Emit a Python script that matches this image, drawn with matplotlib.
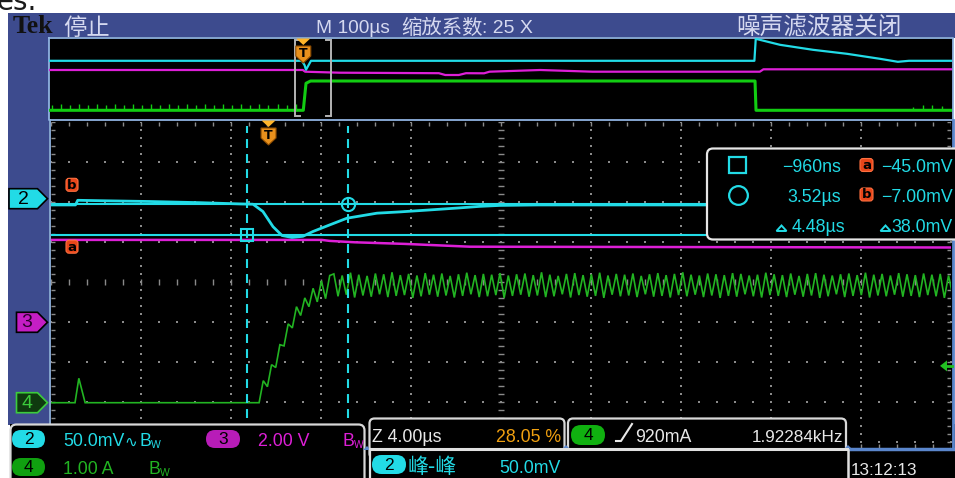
import matplotlib
matplotlib.use("Agg")
import matplotlib.pyplot as plt
import numpy as np
from matplotlib.patches import Rectangle, FancyBboxPatch, Polygon
from matplotlib.collections import LineCollection

# ======================= DATA =======================
# ---- zoomed window, 4.00 us/div ----
ch2_t  = [-9.69, -8.60, -8.50, -7.50, -5.30, -3.00, -1.30, -0.69, -0.25, 0.20, 0.60,
          1.04, 1.53, 1.98, 2.73, 3.49, 4.83, 5.85, 7.20, 8.50, 9.40, 10.30, 12.0, 30.40]
ch2_mv = [-7.8, -7.8, -2.0, -2.5, -3.5, -5.0, -6.5, -6.9, -16.0, -35.0, -46.0,
          -48.4, -47.0, -41.0, -32.7, -24.4, -18.1, -16.5, -14.0, -11.5, -9.6, -8.4, -7.8, -7.8]

ch3_t = [-9.69, 2.37, 2.73, 3.85, 6.08, 8.97, 30.40]
ch3_v = [4.12, 4.12, 4.07, 4.00, 3.92, 3.78, 3.74]

ch4_base_t = [-9.69, -8.62, -8.45, -8.17, -0.42]
ch4_base_a = [0.0, 0.0, 0.61, 0.0, 0.0]
ch4_rip_t0 = -0.42          # first vertex of the ramp / ripple
ch4_rip_dt = 0.185          # half period of the switching ripple (us)
ch4_ramp_a = [0.55, 0.40, 0.95, 0.88, 1.45, 1.42, 1.97, 1.87, 2.40, 2.18,
              2.62, 2.40, 2.86, 2.52, 3.05, 2.60, 3.18]
ch4_peaks = [3.22, 3.18, 3.25, 3.20, 3.17, 3.23, 3.21, 3.26, 3.19, 3.22,
             3.18, 3.24, 3.20, 3.23, 3.17, 3.21, 3.25, 3.19, 3.22, 3.20,
             3.24, 3.18, 3.21, 3.23, 3.19, 3.26, 3.20, 3.17, 3.22, 3.24,
             3.19, 3.21, 3.25, 3.18, 3.22, 3.20, 3.23, 3.17, 3.21, 3.24,
             3.19, 3.22, 3.26, 3.20, 3.18, 3.23, 3.21, 3.19, 3.24, 3.22,
             3.18, 3.20, 3.25, 3.21, 3.19, 3.23, 3.17, 3.22, 3.24, 3.20,
             3.18, 3.21, 3.23, 3.19, 3.25, 3.20, 3.22, 3.18, 3.24, 3.21,
             3.19, 3.23, 3.20, 3.22, 3.18]
ch4_troughs = [2.66, 2.70, 2.63, 2.68, 2.65, 2.71, 2.64, 2.67, 2.69, 2.62,
               2.66, 2.70, 2.65, 2.68, 2.63, 2.67, 2.71, 2.64, 2.66, 2.69,
               2.62, 2.67, 2.70, 2.65, 2.68, 2.64, 2.66, 2.71, 2.63, 2.69,
               2.65, 2.67, 2.62, 2.70, 2.66, 2.68, 2.64, 2.71, 2.65, 2.67,
               2.63, 2.69, 2.66, 2.70, 2.64, 2.68, 2.62, 2.67, 2.65, 2.71,
               2.66, 2.63, 2.69, 2.67, 2.64, 2.70, 2.65, 2.68, 2.62, 2.66,
               2.71, 2.64, 2.67, 2.69, 2.63, 2.68, 2.66, 2.70, 2.65, 2.67,
               2.64, 2.69, 2.66, 2.62, 2.68]

cursor_t = [-0.96, 3.52]          # square, circle
cursor_mv = [-45.0, -7.0]         # a, b
zoom_xlim = (-9.69, 30.40)

# ---- overview record, 100 us/div ----
ov_xlim = (-281.3, 717.6)
ov2_t  = [-281.3, -1.5, 1.5, 3.0, 8.5, 499.0, 500.5, 527.3, 563.8, 601.4, 637.9, 657.7, 670.0, 717.6]
ov2_mv = [-7.5, -7.5, -30.0, -52.5, -7.5, -7.5, 102.5, 72.5, 47.5, 27.5, 2.5, -12.5, -7.5, -7.5]
ov3_t = [-281.3, -0.5, 2.0, 40.0, 150.0, 157.0, 172.0, 180.0, 200.0, 206.0, 262.0, 320.0, 505.0, 509.0, 717.6]
ov3_v = [4.04, 4.04, 3.70, 3.50, 3.40, 3.04, 3.04, 3.40, 3.38, 3.70, 4.04, 3.70, 3.70, 4.18, 4.18]
ov4_t = [-281.3, 0.0, 3.0, 8.0, 499.7, 500.8, 717.6]
ov4_a = [0.0, 0.0, 2.70, 2.93, 2.93, 0.0, 0.0]
ov4_spike_t = [-278.5, -268.5, -258.5, -248.5, -238.5, -228.5, -218.5, -208.5, -198.5, -188.5,
               -178.5, -168.5, -158.5, -148.5, -138.5, -128.5, -118.5, -108.5, -98.5, -88.5,
               -78.5, -68.5, -58.5, -48.5, -38.5, -28.5, -18.5, -8.5, 674.0, 685.0, 696.0, 707.0]
ov4_spike_a = [0.55, 0.60, 0.50, 0.60, 0.55, 0.60, 0.50, 0.60, 0.55, 0.60,
               0.50, 0.60, 0.55, 0.60, 0.50, 0.60, 0.55, 0.60, 0.50, 0.60,
               0.55, 0.60, 0.50, 0.60, 0.55, 0.60, 0.50, 0.60, 0.30, 0.50, 0.50, 0.40]

# ---- channel settings ----
ch_scale = {2: 50.0, 3: 2.0, 4: 1.0}       # mV/div, V/div, A/div
ch_pos = {2: 2.07, 3: -1.02, 4: -3.03}     # ground marker, divisions
trig_level_a = 0.92

# ======================= STYLE =======================
CY = '#22dbe6'
MG = '#dd1fd6'
GR = '#22b422'
GR_OV = '#12cc12'
ICON = '#e8461a'
BLUE = '#3d4b8e'
EDGE = '#8fb3e0'
GRID = '#8a8a8a'
HDR = '#d5d9f0'
NARROW = ['Liberation Sans Narrow', 'Liberation Sans', 'DejaVu Sans']
CJK = ['Noto Sans CJK SC', 'DejaVu Sans']
FS = 12.8

W, H = 955, 478
fig = plt.figure(figsize=(W / 100, H / 100), dpi=100)
fig.patch.set_facecolor('white')


def rect(x0, y0, x1, y1):
    return [x0 / W, 1 - y1 / H, (x1 - x0) / W, (y1 - y0) / H]


def pixel_axes(z):
    a = fig.add_axes([0, 0, 1, 1])
    a.set_xlim(0, W)
    a.set_ylim(H, 0)
    a.axis('off')
    a.set_zorder(z)
    a.patch.set_alpha(0)
    return a


bg = pixel_axes(0)
fg = pixel_axes(6)

MAIN = (51, 121.5, 951, 448)
ax = fig.add_axes(rect(*MAIN))
ax.set_xlim(*zoom_xlim)
ax.set_ylim(-4.1625, 4.0)
ax.axis('off')
ax.set_zorder(3)
ax.patch.set_alpha(0)

gax = fig.add_axes(rect(*MAIN))
gax.set_xlim(0, 10)
gax.set_ylim(-4.1625, 4.0)
gax.axis('off')
gax.set_zorder(2)
gax.patch.set_alpha(0)

ov = fig.add_axes(rect(49, 38, 952, 118))
ov.set_xlim(*ov_xlim)
ov.set_ylim(-3.8, 4.2)
ov.axis('off')
ov.set_zorder(3)
ov.patch.set_alpha(0)


def to_bg(a, x, y):
    d = a.transData.transform((x, y))
    return d[0], H - d[1]


# ---------------- frame / backgrounds ----------------
bg.add_patch(Rectangle((8, 13), W - 8, 25, color=BLUE, lw=0))
bg.add_patch(Rectangle((8, 13), 41, 412, color=BLUE, lw=0))
bg.add_patch(Rectangle((49, 37), 904, 413, color='black', lw=0))
bg.add_patch(Rectangle((10, 424), W - 10, 54, color='black', lw=0))
bg.plot([48.5, 952.5, 952.5, 48.5, 48.5], [37.5, 37.5, 119.5, 119.5, 37.5], color=EDGE, lw=1.3)
bg.plot([49.5, 49.5], [119.5, 425], color=EDGE, lw=1.3)
bg.plot([952.8, 952.8], [119.5, 449], color='#5a86cc', lw=2.0)
bg.plot([848, 954], [449, 449], color='#5a86cc', lw=2.5)

# cropped caption text above the screenshot
bg.text(-3, 10, 'es.', fontsize=20, color='#1a1a1a', family=['DejaVu Sans'], va='baseline')

# header texts
bg.text(13, 33, 'Tek', fontsize=18.5, color='#111111', family=['Liberation Serif', 'DejaVu Serif'],
        fontweight='bold', va='baseline')
bg.text(63, 34.5, '停止', fontsize=16.8, color=HDR, family=CJK, va='baseline')
bg.text(316, 33.3, 'M 100µs', fontsize=13.8, color=HDR, family=NARROW, va='baseline')
bg.text(401, 34.0, '缩放系数', fontsize=14.7, color=HDR, family=CJK, va='baseline')
bg.text(482, 33.3, ': 25 X', fontsize=14, color=HDR, family=NARROW, va='baseline')
bg.text(736, 34.5, '噪声滤波器关闭', fontsize=17, color=HDR, family=CJK, va='baseline')

# ---------------- graticule ----------------
maj_x = [k for k in range(1, 10) if k != 5]
maj_y = [j for j in range(-4, 4) if j != 0]
fine_y = [j * 0.2 for j in range(-20, 21)]
fine_x = [i * 0.2 for i in range(0, 51)]
dx = [x for x in maj_x for _ in fine_y]
dy = [y for _ in maj_x for y in fine_y]
gax.scatter(dx, dy, s=1.3, marker='s', color=GRID, lw=0)
dx = [x for _ in maj_y for x in fine_x]
dy = [y for y in maj_y for _ in fine_x]
gax.scatter(dx, dy, s=1.3, marker='s', color=GRID, lw=0)
segs = []
for y in fine_y:                          # centre vertical axis + side edges
    segs.append([(5 - 0.035, y), (5 + 0.035, y)])
    segs.append([(0.0, y), (0.045, y)])
    segs.append([(10 - 0.045, y), (10, y)])
for x in fine_x:                          # centre horizontal axis + top/bottom edges
    segs.append([(x, -0.075), (x, 0.075)])
    segs.append([(x, 4.0), (x, 3.9)])
    segs.append([(x, -4.1625), (x, -4.0625)])
gax.add_collection(LineCollection(segs, colors=GRID, linewidths=1.0))

# ---------------- traces, zoom window ----------------
def div(ch, vals):
    return ch_pos[ch] + np.asarray(vals, dtype=float) / ch_scale[ch]


steady = [v for pair in zip(ch4_peaks, ch4_troughs) for v in pair]
rip_vals = ch4_ramp_a + steady
rip_t = [ch4_rip_t0 + ch4_rip_dt * (i + 1) for i in range(len(rip_vals))]
ch4_t = ch4_base_t + rip_t
ch4_a = ch4_base_a + rip_vals
ax.plot(ch4_t, div(4, ch4_a), color=GR, lw=1.2, solid_joinstyle='miter')
ax.plot(ch3_t, div(3, ch3_v), color=MG, lw=1.8)
ax.plot(ch2_t, div(2, ch2_mv), color=CY, lw=2.0)

# cursors
for t in cursor_t:
    ax.axvline(t, color=CY, lw=1.5, dashes=(4.3, 2.9), ymax=0.985)
for mv in cursor_mv:
    ax.axhline(div(2, mv), color=CY, lw=1.5)
ax.plot(cursor_t[0], div(2, cursor_mv[0]), marker='s', ms=8.5, mfc='none', mec=CY, mew=1.5)
ax.plot(cursor_t[1], div(2, cursor_mv[1]), marker='o', ms=9.5, mfc='none', mec=CY, mew=1.5)

# cursor a / b icons on the left
for lab, mv, off in (('a', cursor_mv[0], 12.0), ('b', cursor_mv[1], -19.5)):
    xi, yi = to_bg(ax, zoom_xlim[0], div(2, mv))
    fg.add_patch(FancyBboxPatch((66, yi + off - 6.5), 12, 13, boxstyle='round,pad=0,rounding_size=3',
                                fc=ICON, ec='#ff7040', lw=0.8))
    fg.text(72, yi + off + 0.3, lab, color='black', fontsize=9.5, ha='center', va='center',
            family=['DejaVu Sans'], fontweight='bold')

# trigger marker (t = 0) on the zoom window and the overview
def trig_marker(a, ytop):
    xt, _ = to_bg(a, 0.0, 0.0)
    fg.add_patch(Polygon([(xt - 7, ytop), (xt + 7, ytop), (xt, ytop + 6.5)], closed=True,
                         fc='#ffb52a', ec='none'))
    y0 = ytop + 7.5
    fg.add_patch(Polygon([(xt - 7.5, y0), (xt + 7.5, y0), (xt + 7.5, y0 + 10), (xt, y0 + 17),
                          (xt - 7.5, y0 + 10)], closed=True, fc='#e8901c', ec='#8a4a00', lw=0.8))
    fg.text(xt, y0 + 7.5, 'T', color='black', fontsize=9, ha='center', va='center',
            family=['DejaVu Sans'], fontweight='bold')


trig_marker(ax, 120.5)
trig_marker(ov, 38.5)

# ---------------- overview traces ----------------
ov_div = {2: 2.07, 3: -1.02, 4: -3.03}
ov.plot(ov4_t, ov_div[4] + np.asarray(ov4_a) / ch_scale[4], color=GR_OV, lw=2.2)
ov.vlines(ov4_spike_t, ov_div[4], ov_div[4] + np.asarray(ov4_spike_a) / ch_scale[4],
          color=GR_OV, lw=1.0)
ov.plot(ov3_t, ov_div[3] + np.asarray(ov3_v) / ch_scale[3], color=MG, lw=1.6)
ov.plot(ov2_t, ov_div[2] + np.asarray(ov2_mv) / ch_scale[2], color=CY, lw=1.6)
# zoom bracket
yb_top, yb_bot = 4.0, -3.55
for xe, d in ((zoom_xlim[0], 1), (zoom_xlim[1], -1)):
    ov.plot([xe + d * 5.5, xe, xe, xe + d * 5.5], [yb_top, yb_top, yb_bot, yb_bot],
            color='#b4b4b4', lw=1.4, solid_joinstyle='miter')

# ---------------- channel markers on the left strip ----------------
def ch_marker(ch, x0, fc, tc, ec):
    _, yc = to_bg(ax, 0, ch_pos[ch])
    pts = [(x0, yc - 10), (37.5, yc - 10), (47.5, yc), (37.5, yc + 10), (x0, yc + 10)]
    bg.add_patch(Polygon(pts, closed=True, fc=fc, ec=ec, lw=1.2, zorder=5))
    bg.text((x0 + 37) / 2, yc + 0.5, str(ch), color=tc, fontsize=14, ha='center', va='center',
            family=NARROW, zorder=6)


ch_marker(2, 9, CY, 'black', 'black')
ch_marker(3, 16.5, '#c41ec4', '#2a002a', 'black')
ch_marker(4, 16.5, '#0f3a0f', '#3ccc3c', '#3ccc3c')

# trigger level arrow (right edge)
_, ytl = to_bg(ax, 0, ch_pos[4] + trig_level_a / ch_scale[4])
fg.add_patch(Polygon([(940, ytl), (947, ytl - 5.5), (947, ytl + 5.5)], closed=True, fc='#22c022', ec='none'))
fg.plot([946, 952], [ytl, ytl], color='#22c022', lw=2)

# ---------------- cursor readout box ----------------
fg.add_patch(FancyBboxPatch((707, 148.5), 270, 91, boxstyle='round,pad=0,rounding_size=6',
                            fc='black', ec='#e6e6e6', lw=1.6))
fg.add_patch(Rectangle((729, 157), 17, 16, fc='none', ec=CY, lw=1.6))
fg.plot([737.5], [195], marker='o', ms=13.5, mfc='none', mec=CY, mew=1.6)
fg.text(841, 171.7, '−960ns', color=CY, fontsize=FS, ha='right', va='baseline', family=NARROW)
fg.text(841, 201.7, '3.52µs', color=CY, fontsize=FS, ha='right', va='baseline', family=NARROW)
fg.text(845, 231.7, '4.48µs', color=CY, fontsize=FS, ha='right', va='baseline', family=NARROW)
fg.text(953, 171.7, '−45.0mV', color=CY, fontsize=FS, ha='right', va='baseline', family=NARROW)
fg.text(953, 201.7, '−7.00mV', color=CY, fontsize=FS, ha='right', va='baseline', family=NARROW)
fg.text(953, 231.7, '38.0mV', color=CY, fontsize=FS, ha='right', va='baseline', family=NARROW)
for xt in (776.5, 880.5):
    fg.add_patch(Polygon([(xt, 231), (xt + 10, 231), (xt + 5, 225.5)], closed=True, fc='none',
                         ec=CY, lw=1.4))
for lab, yc in (('a', 165.0), ('b', 194.5)):
    fg.add_patch(FancyBboxPatch((860, yc - 6.5), 13, 13, boxstyle='round,pad=0,rounding_size=3',
                                fc=ICON, ec='#ff7040', lw=0.8))
    fg.text(866.5, yc + 0.3, lab, color='black', fontsize=9.5, ha='center', va='center',
            family=['DejaVu Sans'], fontweight='bold')

# ---------------- bottom readouts ----------------
def pill(x0, y0, w, h, fc, txt, tc='black'):
    fg.add_patch(FancyBboxPatch((x0, y0), w, h, boxstyle='round,pad=0,rounding_size=%f' % (h / 2),
                                fc=fc, ec='none'))
    fg.text(x0 + w / 2, y0 + h / 2 + 0.5, txt, color=tc, fontsize=12.5, ha='center', va='center',
            family=NARROW)


def bw(x, yb, color):
    fg.text(x, yb, 'B', color=color, fontsize=FS, family=NARROW, va='baseline')
    fg.text(x + 12, yb + 2, 'W', color=color, fontsize=7.5, family=NARROW, va='baseline')


# left channel box
fg.add_patch(FancyBboxPatch((10.5, 424.5), 354, 70, boxstyle='round,pad=0,rounding_size=6',
                            fc='black', ec='#d8d8d8', lw=1.6))
pill(12, 430, 33, 18, CY, '2')
fg.text(63, 446.5, '50.0mV', color=CY, fontsize=FS, family=NARROW, va='baseline')
fg.text(124, 446.5, '∿', color=CY, fontsize=11, family=['DejaVu Sans'], va='baseline')
bw(139, 446.5, CY)
pill(206, 430, 34, 18, '#b81cb8', '3')
fg.text(258, 446.5, '2.00 V', color=MG, fontsize=FS, family=NARROW, va='baseline')
bw(342, 446.5, MG)
pill(12, 458, 33, 18, '#10a010', '4')
fg.text(63, 474.5, '1.00 A', color=GR, fontsize=FS, family=NARROW, va='baseline')
bw(148, 474.5, GR)

# zoom box
fg.add_patch(FancyBboxPatch((369.5, 418.5), 195, 40, boxstyle='round,pad=0,rounding_size=5',
                            fc='black', ec='#d8d8d8', lw=1.6))
fg.text(372, 441.5, 'Z 4.00µs', color='#e8e8e8', fontsize=FS, family=NARROW, va='baseline')
fg.text(561, 441.5, '28.05 %', color='#f0a010', fontsize=FS, family=NARROW, va='baseline', ha='right')

# trigger box
fg.add_patch(FancyBboxPatch((568, 418.5), 278, 40, boxstyle='round,pad=0,rounding_size=5',
                            fc='black', ec='#d8d8d8', lw=1.6))
pill(571, 425, 34, 20, '#10b010', '4')
fg.plot([616, 621, 632], [441, 441, 424], color='#e8e8e8', lw=1.5)
fg.text(635, 441.5, '920mA', color='#e8e8e8', fontsize=FS, family=NARROW, va='baseline')
fg.text(843, 441.5, '1.92284kHz', color='#e8e8e8', fontsize=12.3, family=NARROW, va='baseline', ha='right')

# measurement row
fg.add_patch(Rectangle((369, 449), 479, 40, fc='black', ec='none'))
fg.plot([369.5, 847], [449, 449], color='#e0e0e0', lw=2.2)
fg.plot([369.5, 369.5], [449, 478], color='#e0e0e0', lw=1.6)
pill(372, 455, 34, 19, CY, '2')
fg.text(407, 473, '峰-峰', color=CY, fontsize=15, family=CJK, va='baseline')
fg.text(561, 473, '50.0mV', color=CY, fontsize=FS, family=NARROW, va='baseline', ha='right')

# time box
fg.plot([847.5, 847.5], [450, 478], color='#e0e0e0', lw=1.8)
fg.text(851, 475, '13:12:13', color='#e8e8e8', fontsize=12.3, family=NARROW, va='baseline')
for xm, ym in ((367, 450), (566, 449), (848, 449)):
    fg.add_patch(Polygon([(xm - 4, ym), (xm + 4, ym), (xm, ym - 4)], closed=True, fc='#5a86cc', ec='none'))

fig.savefig('out.png', dpi=100, facecolor='white')
